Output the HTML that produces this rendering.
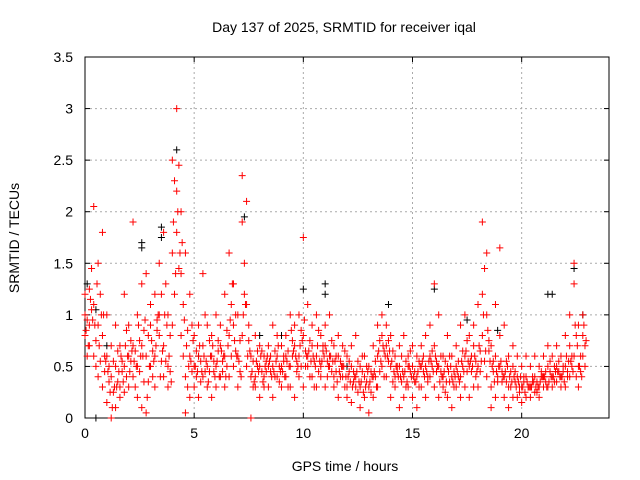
<!DOCTYPE html>
<html><head><meta charset="utf-8"><style>
body{margin:0;background:#fff}
svg{display:block;font-family:"Liberation Sans",sans-serif}
</style></head><body>
<svg id="c" width="640" height="480" xmlns="http://www.w3.org/2000/svg">
<rect width="640" height="480" fill="#fff"/>
<g id="grid"></g>
<rect x="85" y="57" width="524" height="361" fill="none" stroke="#000" stroke-width="1"/>
<g id="ticks"></g>
<g id="marks"></g>
<text x="344" y="32" text-anchor="middle" font-size="14">Day 137 of 2025, SRMTID for receiver iqal</text>
<text x="345" y="471" text-anchor="middle" font-size="14">GPS time / hours</text>
<text x="19" y="238" text-anchor="middle" font-size="14" transform="rotate(-90 19 238)">SRMTID / TECUs</text>
</svg>
<script>
const xTicks=[0,5,10,15,20];
const yTicks=[0,0.5,1,1.5,2,2.5,3,3.5];
const yTickLabels=["0","0.5","1","1.5","2","2.5","3","3.5"];
const times=[0,0.2,0.4,0.6,0.8,1.0,1.2,1.4,1.6,1.8,2.0,2.2,2.4,2.6,2.8,3.0,3.2,3.4,3.6,3.8,4.0,4.2,4.4,4.6,4.8,5.0,5.2,5.4,5.6,5.8,6.0,6.2,6.4,6.6,6.8,7.0,7.2,7.4,7.6,7.8,8.0,8.2,8.4,8.6,8.8,9.0,9.2,9.4,9.6,9.8,10.0,10.2,10.4,10.6,10.8,11.0,11.2,11.4,11.6,11.8,12.0,12.2,12.4,12.6,12.8,13.0,13.2,13.4,13.6,13.8,14.0,14.2,14.4,14.6,14.8,15.0,15.2,15.4,15.6,15.8,16.0,16.2,16.4,16.6,16.8,17.0,17.2,17.4,17.6,17.8,18.0,18.2,18.4,18.6,18.8,19.0,19.2,19.4,19.6,19.8,20.0,20.2,20.4,20.6,20.8,21.0,21.2,21.4,21.6,21.8,22.0,22.2,22.4,22.6,22.8];
const redA=[1.0,1.25,2.05,1.5,1.8,0.6,0.0,0.1,0.3,1.2,0.9,1.9,1.0,1.3,0.05,0.9,1.2,1.5,1.8,0.3,2.5,3.0,2.0,0.05,1.2,0.3,0.6,1.4,0.9,0.6,0.5,0.7,0.6,1.6,0.9,1.0,2.35,2.1,0.0,0.4,0.5,0.4,0.7,0.5,0.6,0.3,0.8,0.5,0.7,0.6,1.75,0.5,0.9,0.6,0.8,0.7,0.5,0.4,0.6,0.4,0.3,0.5,0.4,0.1,0.2,0.05,0.4,0.6,0.8,0.7,0.5,0.3,0.5,0.4,0.3,0.2,0.4,0.3,0.5,0.9,1.3,0.5,0.3,0.2,0.4,0.3,0.9,1.0,0.5,0.7,1.1,1.9,1.6,0.3,0.6,1.65,0.4,0.3,0.2,0.4,0.3,0.2,0.3,0.4,0.3,0.4,0.5,0.4,0.35,0.4,0.5,1.0,1.5,0.5,1.0];
const redB=[0.8,0.9,1.1,0.4,0.3,0.15,0.4,0.5,0.7,0.5,0.3,0.7,0.2,0.1,1.4,0.5,0.6,0.8,0.4,1.0,1.6,2.2,1.4,1.6,0.2,0.8,0.2,0.4,0.3,0.2,1.0,0.4,0.3,0.8,0.5,0.3,1.9,1.1,0.6,0.8,0.2,0.6,0.3,0.9,0.4,0.7,0.4,1.0,0.2,0.4,0.3,1.1,0.4,0.3,0.5,0.3,1.0,0.7,0.2,0.7,0.6,0.15,0.8,0.5,0.6,0.5,0.7,0.3,0.5,0.4,0.2,0.6,0.1,0.8,0.6,0.5,0.1,0.7,0.2,0.4,0.7,1.0,0.6,0.5,0.1,0.7,0.4,0.6,0.8,0.3,0.5,0.8,0.4,0.1,1.1,0.5,0.9,0.6,0.5,0.2,0.5,0.4,0.2,0.25,0.5,0.3,0.3,0.6,0.5,0.3,0.8,0.4,0.6,0.3,0.6];
const redC=[1.2,0.7,0.6,0.9,0.8,1.0,0.7,0.9,0.2,0.25,0.6,0.4,0.5,0.7,0.6,1.1,0.3,1.0,0.7,0.5,0.9,1.8,0.8,0.4,0.6,0.5,0.9,0.7,0.5,0.8,0.3,0.9,1.2,0.4,1.3,0.6,0.8,0.5,0.4,0.3,0.7,0.3,0.5,0.2,0.8,0.5,0.6,0.3,0.9,1.0,0.8,0.6,0.7,1.0,0.4,0.9,0.6,0.3,0.8,0.5,0.2,0.7,0.3,0.3,0.4,0.3,0.2,0.9,1.0,0.9,0.8,0.4,0.7,0.2,0.5,0.7,0.6,0.5,0.8,0.6,0.3,0.2,0.4,0.8,0.6,0.5,0.2,0.3,0.2,0.9,0.3,1.2,1.0,0.7,0.2,0.8,0.2,0.1,0.7,0.6,0.15,0.6,0.5,0.6,0.2,0.6,0.7,0.3,0.7,0.6,0.3,0.7,1.3,0.9,0.8];
const redD=[0.95,1.05,0.75,0.55,0.45,0.35,0.25,0.65,0.45,0.85,0.55,0.65,0.45,0.85,0.35,0.65,0.95,0.55,1.3,0.45,2.3,1.45,1.1,0.85,0.45,0.65,0.55,0.45,0.75,0.45,0.65,0.55,0.85,1.1,0.65,0.75,1.2,0.75,0.55,0.65,0.45,0.55,0.45,0.65,0.35,0.55,0.65,0.75,0.45,0.85,0.65,0.75,0.55,0.85,0.65,0.55,0.75,0.45,0.55,0.65,0.45,0.35,0.55,0.45,0.35,0.45,0.55,0.75,0.65,0.55,0.65,0.45,0.35,0.55,0.45,0.35,0.55,0.45,0.35,0.65,0.55,0.45,0.55,0.35,0.45,0.55,0.65,0.75,0.45,0.55,0.65,0.55,0.65,0.45,0.35,0.45,0.35,0.45,0.35,0.3,0.35,0.3,0.4,0.35,0.45,0.35,0.45,0.5,0.45,0.5,0.4,0.6,0.8,0.6,0.7];
const redE=[0.6,1.45,0.5,1.2,0.6,0.5,0.55,0.35,0.55,0.4,0.75,0.3,0.75,0.35,0.8,0.4,0.85,1.2,0.55,0.8,1.2,2.45,0.6,0.3,0.9,0.4,0.35,1.0,0.45,0.55,0.75,0.45,0.5,0.6,1.0,0.45,1.5,0.9,0.3,0.5,0.65,0.45,0.6,0.4,0.5,0.6,0.3,0.6,0.55,0.5,0.5,0.4,0.3,0.45,0.7,0.4,0.45,0.6,0.4,0.3,0.55,0.45,0.25,0.6,0.5,0.25,0.4,0.45,0.4,0.75,0.35,0.5,0.6,0.3,0.65,0.45,0.3,0.6,0.4,0.5,0.45,0.6,0.25,0.6,0.3,0.4,0.5,0.45,0.6,0.4,0.45,1.45,0.75,0.55,0.4,0.35,0.55,0.3,0.45,0.25,0.4,0.3,0.35,0.25,0.4,0.45,0.55,0.35,0.55,0.45,0.45,0.5,0.4,0.45,0.5];
const redF=[0.85,1.15,0.9,0.7,1.0,0.45,0.1,0.3,0.6,0.7,0.45,0.55,0.9,0.6,0.2,0.75,0.7,0.4,1.0,0.6,1.9,2.0,1.7,0.7,0.55,0.5,0.7,0.6,0.35,0.7,0.55,0.65,0.4,0.95,0.75,0.55,1.0,0.6,0.45,0.55,0.6,0.5,0.55,0.45,0.7,0.45,0.55,0.85,0.6,0.7,0.95,0.65,0.6,0.7,0.55,0.65,0.6,0.55,0.45,0.5,0.4,0.3,0.45,0.35,0.3,0.35,0.45,0.65,0.7,0.6,0.55,0.5,0.4,0.45,0.5,0.4,0.45,0.55,0.45,0.55,0.6,0.35,0.45,0.45,0.35,0.45,0.55,0.65,0.55,0.6,0.7,1.0,0.85,0.5,0.45,0.55,0.45,0.4,0.4,0.35,0.3,0.35,0.3,0.3,0.35,0.4,0.35,0.4,0.45,0.4,0.6,0.55,0.9,0.5,0.9];
const redG=[0.7,0.95,1.3,1.0,0.55,0.25,0.3,0.45,0.35,0.6,0.65,0.5,0.6,0.95,0.5,0.55,1.0,0.65,0.9,0.35,1.4,1.6,0.95,0.5,0.75,0.45,0.45,0.55,0.6,0.4,0.4,0.6,0.7,1.3,0.6,0.4,1.1,0.65,0.35,0.45,0.35,0.6,0.4,0.55,0.45,0.4,0.5,0.65,0.5,0.75,0.6,0.55,0.5,0.55,0.6,0.5,0.55,0.35,0.5,0.4,0.35,0.4,0.35,0.25,0.45,0.4,0.3,0.55,0.6,0.65,0.45,0.4,0.45,0.35,0.4,0.35,0.5,0.4,0.55,0.45,0.5,0.4,0.35,0.5,0.4,0.35,0.45,0.55,0.5,0.45,0.55,0.65,0.55,0.35,0.5,0.4,0.5,0.35,0.3,0.4,0.25,0.3,0.35,0.3,0.4,0.3,0.4,0.45,0.4,0.35,0.55,0.45,0.7,0.4,0.75];
const blackT=[0.1,0.5,0.5,1.0,2.6,2.6,3.5,3.5,4.2,5.2,7.3,8.0,9.0,10.0,11.0,11.0,12.0,13.9,16.0,17.5,18.9,21.2,21.4,22.4,22.8];
const blackV=[1.3,1.05,0.0,0.7,1.7,1.65,1.85,1.75,2.6,0.6,1.95,0.8,0.8,1.25,1.3,1.2,0.5,1.1,1.25,0.95,0.85,1.2,1.2,1.45,1.0];

const X0=85,X1=609,Y0=418,Y1=57;
const xs=v=>X0+v*(X1-X0)/24;
const ys=v=>Y0-v*(Y0-Y1)/3.5;
const NS="http://www.w3.org/2000/svg";
const grid=document.getElementById('grid'),ticks=document.getElementById('ticks'),marks=document.getElementById('marks');
function mk(tag,at,p){const e=document.createElementNS(NS,tag);for(const k in at)e.setAttribute(k,at[k]);p.appendChild(e);return e;}
xTicks.forEach((t,i)=>{
  const x=xs(t);
  if(t>0){const g=mk('line',{x1:x,x2:x,y1:Y1,y2:Y0,stroke:'#aaa','stroke-dasharray':'2,3'},grid);
  
  }
  mk('line',{x1:x,x2:x,y1:Y0,y2:Y0-5,stroke:'#000'},ticks);
  mk('line',{x1:x,x2:x,y1:Y1,y2:Y1+5,stroke:'#000'},ticks);
  const tx=mk('text',{x:x,y:Y0+20,'text-anchor':'middle','font-size':'14'},ticks);
  tx.textContent=String(t);
  
  
});
yTicks.forEach((t,i)=>{
  const y=ys(t);
  if(t>0&&t<3.5){const g=mk('line',{x1:X0,x2:X1,y1:y,y2:y,stroke:'#aaa','stroke-dasharray':'2,3'},grid);
  
  }
  mk('line',{x1:X0,x2:X0+5,y1:y,y2:y,stroke:'#000'},ticks);
  mk('line',{x1:X1,x2:X1-5,y1:y,y2:y,stroke:'#000'},ticks);
  const tx=mk('text',{x:X0-12,y:y+5,'text-anchor':'end','font-size':'14'},ticks);
  tx.textContent=yTickLabels[i];
  
  
});
function plus(t,v,col,name){
  const x=xs(t),y=ys(v);
  const p=mk('path',{d:`M${x-3.5} ${y}H${x+3.5}M${x} ${y-3.5}V${y+3.5}`,stroke:col,'stroke-width':'1',fill:'none'},marks);
  
  
}
blackT.forEach((t,i)=>plus(t,blackV[i],'#000','black-point'));
[redA,redB,redC].forEach(s=>s.forEach((v,i)=>plus(times[i],v,'#f00','red-point')));
[redD,redE].forEach(s=>s.forEach((v,i)=>plus(times[i]+0.1,v,'#f00','red-point')));
redF.forEach((v,i)=>plus(times[i]+0.05,v,'#f00','red-point'));
redG.forEach((v,i)=>plus(times[i]+0.15,v,'#f00','red-point'));
</script>
</body></html>
